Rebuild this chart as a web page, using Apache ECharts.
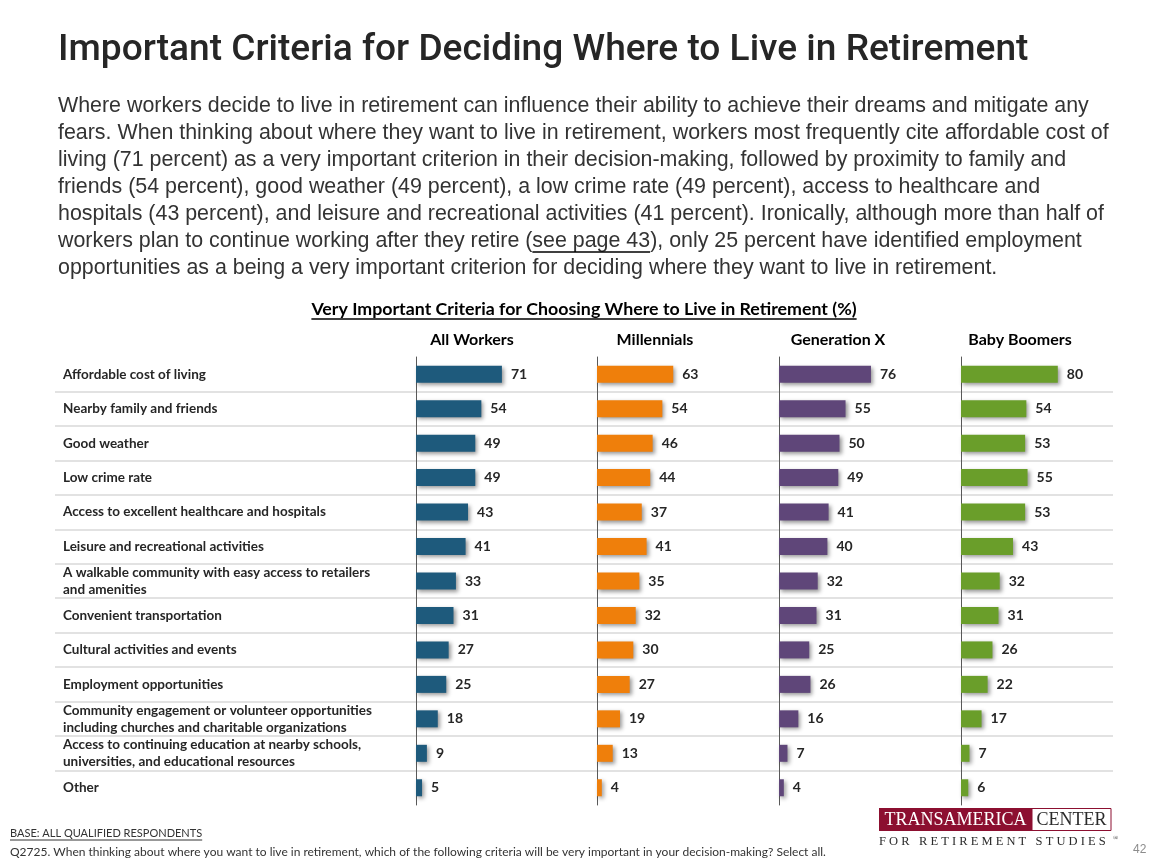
<!DOCTYPE html>
<html>
<head>
<meta charset="utf-8">
<script src="https://cdn.jsdelivr.net/npm/echarts@6/dist/echarts.min.js"></script>
<style>
html,body{margin:0;padding:0;background:#fff;}
#chart{width:1155px;height:866px;}
</style>
</head>
<body>
<div id="chart"></div>
<script>
// ---------- data ----------
const categories = [
  'Affordable cost of living',
  'Nearby family and friends',
  'Good weather',
  'Low crime rate',
  'Access to excellent healthcare and hospitals',
  'Leisure and recreational activities',
  'A walkable community with easy access to retailers\nand amenities',
  'Convenient transportation',
  'Cultural activities and events',
  'Employment opportunities',
  'Community engagement or volunteer opportunities\nincluding churches and charitable organizations',
  'Access to continuing education at nearby schools,\nuniversities, and educational resources',
  'Other'
];
const groupNames = ['All Workers', 'Millennials', 'Generation X', 'Baby Boomers'];
const allWorkers  = [71, 54, 49, 49, 43, 41, 33, 31, 27, 25, 18, 9, 5];
const millennials = [63, 54, 46, 44, 37, 41, 35, 32, 30, 27, 19, 13, 4];
const generationX = [76, 55, 50, 49, 41, 40, 32, 31, 25, 26, 16, 7, 4];
const babyBoomers = [80, 54, 53, 55, 53, 43, 32, 31, 26, 22, 17, 7, 6];

const titleText = 'Important Criteria for Deciding Where to Live in Retirement';
const paragraphLines = [
  'Where workers decide to live in retirement can influence their ability to achieve their dreams and mitigate any',
  'fears. When thinking about where they want to live in retirement, workers most frequently cite affordable cost of',
  'living (71 percent) as a very important criterion in their decision-making, followed by proximity to family and',
  'friends (54 percent), good weather (49 percent), a low crime rate (49 percent), access to healthcare and',
  'hospitals (43 percent), and leisure and recreational activities (41 percent). Ironically, although more than half of',
  'workers plan to continue working after they retire (see page 43), only 25 percent have identified employment',
  'opportunities as a being a very important criterion for deciding where they want to live in retirement.'
];
const chartSubtitle = 'Very Important Criteria for Choosing Where to Live in Retirement (%)';
const baseNote = 'BASE: ALL QUALIFIED RESPONDENTS';
const questionNote = 'Q2725. When thinking about where you want to live in retirement, which of the following criteria will be very important in your decision-making? Select all.';

// ---------- layout / style ----------
const seriesData = [allWorkers, millennials, generationX, babyBoomers];
const colors = ['#1e5a7c', '#ef7f0b', '#5f4679', '#6a9e2a'];
const gridLefts = [416, 597, 779, 961];
const gridWidth = 121;
const gridTop = 357;
const gridHeight = 448;
const headerCenters = [472, 655, 838, 1020];

const chart = echarts.init(document.getElementById('chart'), null, {renderer: 'canvas'});

function measure(text, font) {
  const c = document.createElement('canvas').getContext('2d');
  c.font = font;
  return c.measureText(text).width;
}

const paraFont = '21.4px "Liberation Sans"';
const paraX = 58, paraY0 = 106, paraLH = 27;

const grids = [{left: 55, right: 42, top: gridTop, height: gridHeight}];
const xAxes = [{gridIndex: 0, type: 'value', show: false, min: 0, max: 100}];
const yAxes = [{
  gridIndex: 0, type: 'category', data: categories, inverse: true,
  axisLine: {show: false}, axisTick: {show: false},
  axisLabel: {inside: true, margin: 8, color: '#262626', fontFamily: 'Lato', fontWeight: 'bold', fontSize: 13.5, lineHeight: 17, align: 'left'},
  splitLine: {show: true, showMinLine: false, showMaxLine: false, lineStyle: {color: '#d9d9d9', width: 1.5}}
}];
const series = [];
gridLefts.forEach((l, i) => {
  grids.push({left: l, width: gridWidth, top: gridTop, height: gridHeight});
  xAxes.push({gridIndex: i + 1, type: 'value', show: false, min: 0, max: 100});
  yAxes.push({gridIndex: i + 1, type: 'category', data: categories, inverse: true,
    axisLine: {show: true, lineStyle: {color: '#595959', width: 1}},
    axisTick: {show: false}, axisLabel: {show: false}, splitLine: {show: false}});
  series.push({
    type: 'bar', name: groupNames[i], xAxisIndex: i + 1, yAxisIndex: i + 1,
    data: seriesData[i], barWidth: 17,
    itemStyle: {color: colors[i], shadowBlur: 4, shadowColor: 'rgba(0,0,0,0.4)', shadowOffsetX: 2, shadowOffsetY: 2},
    label: {show: true, position: 'right', distance: 9, color: '#262626', fontFamily: 'Lato', fontWeight: 'bold', fontSize: 14},
    silent: true, animation: false
  });
});

const graphics = [];
// title
(function () {
  const f = '500 35px Roboto';
  const target = 972;
  const w = measure(titleText, f);
  const size = 35 * target / w;
  graphics.push({type: 'text', x: 58, y: 51, style: {text: titleText, font: '500 ' + size.toFixed(1) + 'px Roboto', fill: '#262626', textVerticalAlign: 'middle'}});
})();
// paragraph
paragraphLines.forEach((t, k) => {
  graphics.push({type: 'text', x: paraX, y: paraY0 + k * paraLH, style: {text: t, font: paraFont, fill: '#333333', textVerticalAlign: 'middle'}});
});
// underline "see page 43"
(function () {
  const line = paragraphLines[5];
  const pre = line.slice(0, line.indexOf('see page 43'));
  const x1 = paraX + measure(pre, paraFont);
  const x2 = x1 + measure('see page 43', paraFont);
  const y = paraY0 + 5 * paraLH + 11;
  graphics.push({type: 'line', shape: {x1: x1, y1: y, x2: x2, y2: y}, style: {stroke: '#000', lineWidth: 1.3}});
})();
// chart subtitle with underline
(function () {
  const f = 'bold 17.8px Lato';
  const cx = 584, cy = 309;
  const w = measure(chartSubtitle, f);
  graphics.push({type: 'text', x: cx, y: cy, style: {text: chartSubtitle, font: f, fill: '#000', textAlign: 'center', textVerticalAlign: 'middle'}});
  graphics.push({type: 'line', shape: {x1: cx - w / 2, y1: cy + 10, x2: cx + w / 2, y2: cy + 10}, style: {stroke: '#000', lineWidth: 1.3}});
})();
// group headers
groupNames.forEach((g, i) => {
  graphics.push({type: 'text', x: headerCenters[i], y: 340, style: {text: g, font: 'bold 16px Lato', fill: '#000', textAlign: 'center', textVerticalAlign: 'middle'}});
});
// footer
(function () {
  const f = '11px Lato';
  const w = measure(baseNote, f);
  graphics.push({type: 'text', x: 10, y: 833, style: {text: baseNote, font: f, fill: '#333', textVerticalAlign: 'middle'}});
  graphics.push({type: 'line', shape: {x1: 10, y1: 840, x2: 10 + w, y2: 840}, style: {stroke: '#333', lineWidth: 1}});
  graphics.push({type: 'text', x: 10, y: 852, style: {text: questionNote, font: '12px Lato', fill: '#333', textVerticalAlign: 'middle'}});
  graphics.push({type: 'text', x: 1133, y: 850, style: {text: '42', font: '12px "Liberation Sans"', fill: '#8c8c8c', textVerticalAlign: 'middle'}});
})();
// logo
graphics.push({type: 'rect', shape: {x: 879, y: 808, width: 153, height: 23}, style: {fill: '#8c0f30'}});
graphics.push({type: 'text', x: 955.5, y: 820, style: {text: 'TRANSAMERICA', font: '18px "Liberation Serif"', fill: '#fff', textAlign: 'center', textVerticalAlign: 'middle'}});
graphics.push({type: 'rect', shape: {x: 1032, y: 808.5, width: 79, height: 22}, style: {fill: '#fff', stroke: '#8c0f30', lineWidth: 1}});
graphics.push({type: 'text', x: 1071.5, y: 820, style: {text: 'CENTER', font: '18px "Liberation Serif"', fill: '#2b2b2b', textAlign: 'center', textVerticalAlign: 'middle'}});
graphics.push({type: 'text', x: 879, y: 842, style: {text: 'F O R   R E T I R E M E N T   S T U D I E S', font: '12.5px "Liberation Serif"', fill: '#2b2b2b', textVerticalAlign: 'middle'}});
graphics.push({type: 'text', x: 1113, y: 838, style: {text: '®', font: '7px "Liberation Serif"', fill: '#2b2b2b', textVerticalAlign: 'middle'}});

chart.setOption({
  backgroundColor: '#ffffff',
  animation: false,
  grid: grids,
  xAxis: xAxes,
  yAxis: yAxes,
  series: series,
  graphic: graphics
});
</script>
</body>
</html>
